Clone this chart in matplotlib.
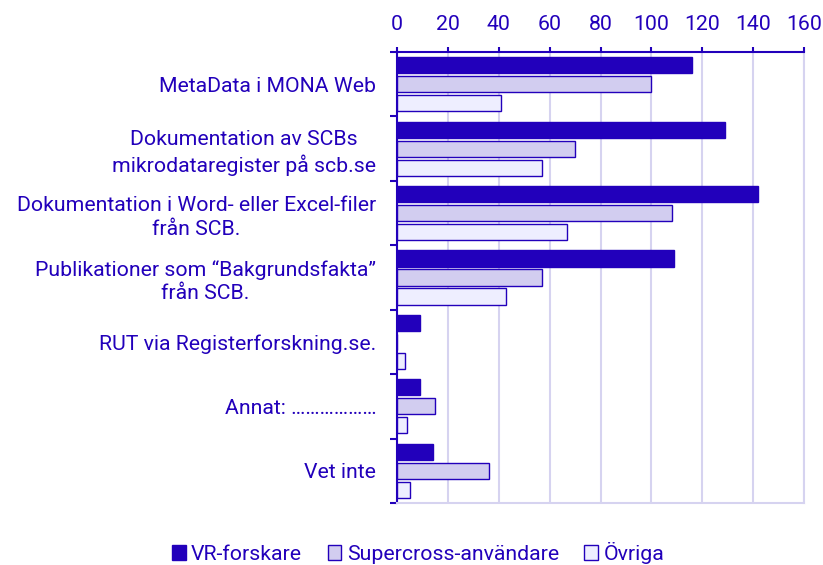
import matplotlib
matplotlib.use("Agg")
import matplotlib.pyplot as plt
import numpy as np

plt.rcParams['font.family'] = ['Roboto', 'DejaVu Sans']

categories = [
    "MetaData i MONA Web",
    "Dokumentation av SCBs\nmikrodataregister på scb.se",
    "Dokumentation i Word- eller Excel-filer\nfrån SCB.",
    "Publikationer som \u201cBakgrundsfakta\u201d\nfrån SCB.",
    "RUT via Registerforskning.se.",
    "Annat: \u2026\u2026\u2026\u2026\u2026\u2026",
    "Vet inte",
]
series_names = ["VR-forskare", "Supercross-användare", "Övriga"]
vr = [116, 129, 142, 109, 9, 9, 14]
supercross = [100, 70, 108, 57, 0, 15, 36]
ovriga = [41, 57, 67, 43, 3, 4, 5]
xticks = [0, 20, 40, 60, 80, 100, 120, 140, 160]

DARK = '#2200BB'
MID = '#D2CDF0'
LIGHT = '#EEEEFF'
GRID = '#D6D3F0'
FS = 15.3

fig = plt.figure(figsize=(8.23, 5.65), dpi=100)
ax = fig.add_axes([397/823, 1-503/565, (804-397)/823, (503-52)/565])

y = np.arange(len(categories))
h = 0.25
step = 0.295
ax.barh(y - step, vr, height=h, color=DARK, edgecolor=DARK, linewidth=1, label=series_names[0], zorder=3)
ax.barh(y, supercross, height=h, color=MID, edgecolor=DARK, linewidth=1, label=series_names[1], zorder=3)
ax.barh(y + step, ovriga, height=h, color=LIGHT, edgecolor=DARK, linewidth=1, label=series_names[2], zorder=3)

ax.set_xlim(0, 160)
ax.set_ylim(len(categories) - 0.5, -0.5)
ax.xaxis.tick_top()
ax.set_xticks(xticks)
ax.set_xticklabels([str(t) for t in xticks])
ax.tick_params(axis='x', colors=DARK, labelcolor=DARK, labelsize=FS, length=3.8, width=1.5, direction='out', pad=9)
ax.grid(axis='x', color=GRID, linewidth=1.5, zorder=0)

ax.set_yticks(y)
ax.set_yticklabels(categories, fontsize=FS, color=DARK, multialignment='center', linespacing=1.3)
ax.tick_params(axis='y', length=0, pad=15)
ax.set_yticks(np.arange(-0.5, len(categories)), minor=True)
ax.tick_params(axis='y', which='minor', length=5, width=1.5, color=DARK)

for s in ['top', 'left']:
    ax.spines[s].set_color(DARK)
    ax.spines[s].set_linewidth(1.5)
for s in ['bottom', 'right']:
    ax.spines[s].set_color(GRID)
    ax.spines[s].set_linewidth(1.5)

handles, labels = ax.get_legend_handles_labels()
leg = fig.legend(handles, labels, loc='center', bbox_to_anchor=(418/823, 1-553/565), ncol=3,
                 frameon=False, fontsize=FS, handlelength=0.65, handleheight=0.65,
                 handletextpad=0.25, columnspacing=1.2)
for t in leg.get_texts():
    t.set_color(DARK)

fig.savefig('out.png', dpi=100)
